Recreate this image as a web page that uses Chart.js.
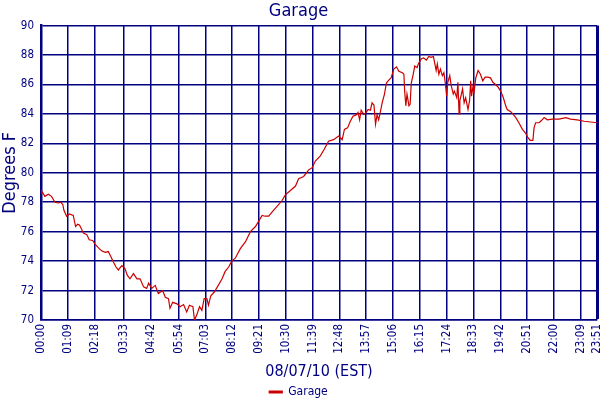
<!DOCTYPE html>
<html>
<head>
<meta charset="utf-8">
<title>Garage</title>
<script src="https://cdn.jsdelivr.net/npm/chart.js@4/dist/chart.umd.min.js"></script>
<style>
    html, body { margin: 0; padding: 0; background: #fff; }
    #wrap { width: 600px; height: 400px; }
</style>
</head>
<body>
<div id="wrap"><canvas id="garageChart"></canvas></div>
<script>
// readings for 08/07/10, time in minutes after midnight
const minutes = [
    0, 2, 10, 19, 27, 36, 45, 51, 56, 59, 66, 73, 83, 89, 94, 99, 103, 109, 118, 124,
    133, 139, 148, 156, 165, 173, 180, 186, 193, 199, 208, 216, 222, 229, 238, 247, 255, 264, 272, 277,
    285, 294, 302, 313, 320, 328, 332, 339, 350, 358, 367, 375, 382, 391, 395, 401, 408, 414, 420, 427,
    431, 437, 446, 454, 466, 474, 483, 491, 500, 513, 526, 539, 552, 560, 569, 577, 586, 595, 607, 620,
    629, 642, 655, 663, 676, 689, 698, 706, 719, 729, 740, 753, 766, 775, 781, 789, 796, 803, 812, 816,
    820, 824, 831, 837, 842, 848, 852, 857, 861, 865, 869, 874, 878, 884, 889, 895, 901, 908, 915, 921,
    930, 934, 936, 939, 942, 947, 950, 953, 958, 962, 968, 972, 979, 985, 992, 998, 1004, 1010, 1013, 1017,
    1020, 1024, 1028, 1033, 1037, 1041, 1044, 1047, 1052, 1056, 1061, 1064, 1070, 1073, 1076, 1078, 1082, 1085, 1089, 1093,
    1099, 1103, 1106, 1108, 1112, 1114, 1119, 1125, 1131, 1137, 1143, 1150, 1157, 1163, 1170, 1177, 1183, 1190, 1196, 1200,
    1209, 1216, 1222, 1230, 1239, 1247, 1253, 1259, 1266, 1269, 1273, 1282, 1288, 1295, 1303, 1316, 1333, 1351, 1363, 1380,
    1398, 1415, 1431
];

const garageTemps = [
    78.6, 78.75, 78.4, 78.55, 78.4, 78.0, 77.95, 78.0, 77.85, 77.45, 77.05, 77.2, 77.1, 76.35, 76.5, 76.45, 76.25, 75.9, 75.8, 75.45,
    75.4, 75.15, 74.9, 74.7, 74.6, 74.65, 74.3, 73.95, 73.6, 73.4, 73.7, 73.5, 73.05, 72.8, 73.15, 72.8, 72.8, 72.25, 72.15, 72.5,
    72.15, 72.35, 71.8, 72.0, 71.55, 71.45, 70.8, 71.2, 71.1, 70.9, 71.05, 70.55, 71.0, 70.9, 70.0, 70.35, 70.9, 70.65, 71.45, 71.45,
    71.0, 71.65, 71.9, 72.25, 72.8, 73.3, 73.6, 74.0, 74.2, 74.85, 75.3, 76.0, 76.35, 76.7, 77.1, 77.05, 77.05, 77.35, 77.7, 78.1,
    78.5, 78.8, 79.1, 79.6, 79.75, 80.2, 80.35, 80.8, 81.15, 81.6, 82.15, 82.25, 82.5, 82.25, 82.95, 83.05, 83.5, 83.85, 83.95, 84.1,
    83.6, 84.25, 83.95, 84.1, 84.3, 84.25, 84.75, 84.6, 83.3, 83.95, 83.6, 84.2, 84.75, 85.35, 86.1, 86.3, 86.45, 87.05, 87.2, 86.9,
    86.8, 86.7, 85.55, 84.55, 85.35, 84.55, 84.65, 86.1, 86.7, 87.25, 87.15, 87.45, 87.75, 87.8, 87.65, 87.9, 87.85, 87.9, 87.5, 86.95,
    87.4, 86.7, 87.05, 86.6, 86.8, 86.0, 85.2, 86.15, 86.6, 85.9, 85.35, 85.55, 85.1, 86.15, 84.0, 84.9, 85.35, 85.7, 84.75, 85.1,
    84.3, 84.9, 86.25, 85.2, 85.9, 85.35, 86.45, 86.95, 86.7, 86.25, 86.5, 86.5, 86.45, 86.15, 86.0, 85.8, 85.55, 85.1, 84.55, 84.3,
    84.15, 83.95, 83.75, 83.4, 82.95, 82.7, 82.4, 82.2, 82.2, 83.05, 83.4, 83.4, 83.55, 83.75, 83.6, 83.65, 83.65, 83.75, 83.65, 83.6,
    83.5, 83.45, 83.4
];

const timeTicks = [
    '00:00', '01:09', '02:18', '03:33', '04:42', '05:54', '07:03', '08:12', '09:21', '10:30', '11:39',
    '12:48', '13:57', '15:06', '16:15', '17:24', '18:33', '19:42', '20:51', '22:00', '23:09', '23:51'
];

const navy = '#000080';
const fontFamily = "'DejaVu Sans Condensed', 'DejaVu Sans', sans-serif";

const toMinutes = (label) => {
    const parts = label.split(':');
    return parseInt(parts[0], 10) * 60 + parseInt(parts[1], 10);
};

const tickValues = timeTicks.map(toMinutes);
const lastTick = tickValues[tickValues.length - 1];

const points = minutes.map((m, i) => ({ x: m, y: garageTemps[i] }));

const ctx = document.getElementById('garageChart').getContext('2d');

new Chart(ctx, {
    type: 'line',
    data: {
        datasets: [{
            label: 'Garage',
            data: points,
            borderColor: '#cc0000',
            backgroundColor: '#cc0000',
            borderWidth: 1.2,
            pointRadius: 0,
            tension: 0,
            fill: false
        }]
    },
    options: {
        responsive: true,
        maintainAspectRatio: false,
        animation: false,
        // legend box is taller than the text, pull it down a bit
        layout: { padding: { right: 3, bottom: -8 } },
        plugins: {
            title: {
                display: true,
                text: 'Garage',
                color: navy,
                font: { family: fontFamily, size: 18, weight: 'normal' },
                padding: { top: 1, bottom: 3 }
            },
            legend: {
                position: 'bottom',
                labels: {
                    color: navy,
                    font: { family: fontFamily, size: 12 },
                    boxWidth: 13,
                    boxHeight: 2,
                    padding: 0
                }
            },
            tooltip: { enabled: false }
        },
        scales: {
            x: {
                type: 'linear',
                min: 0,
                max: lastTick,
                afterBuildTicks: (scale) => {
                    scale.ticks = tickValues.map(v => ({ value: v }));
                },
                afterFit: (scale) => {
                    scale.height = 66;
                    scale.paddingRight = 0;
                },
                ticks: {
                    autoSkip: false,
                    minRotation: 90,
                    maxRotation: 90,
                    padding: 4,
                    color: navy,
                    font: { family: fontFamily, size: 11.5 },
                    callback: (value) => {
                        const idx = tickValues.indexOf(value);
                        return idx >= 0 ? timeTicks[idx] : '';
                    }
                },
                grid: {
                    color: navy,
                    drawTicks: false,
                    lineWidth: (c) => (c.tick && c.tick.value === lastTick ? 3 : 1.5)
                },
                border: { color: navy, width: 1.5 },
                title: {
                    display: true,
                    text: '08/07/10 (EST)',
                    color: navy,
                    font: { family: fontFamily, size: 16 },
                    padding: { top: 0, bottom: 5 }
                }
            },
            y: {
                min: 70,
                max: 90,
                afterFit: (scale) => {
                    scale.width = 41;
                },
                ticks: {
                    stepSize: 2,
                    padding: 7,
                    color: navy,
                    font: { family: fontFamily, size: 11.5 }
                },
                grid: {
                    color: navy,
                    drawTicks: false,
                    lineWidth: 1.5
                },
                border: { color: navy, width: 2.5 },
                title: {
                    display: true,
                    text: 'Degrees F',
                    color: navy,
                    font: { family: fontFamily, size: 18, lineHeight: 1.1 },
                    padding: { top: 0, bottom: 0 }
                }
            }
        }
    }
});
</script>
</body>
</html>
